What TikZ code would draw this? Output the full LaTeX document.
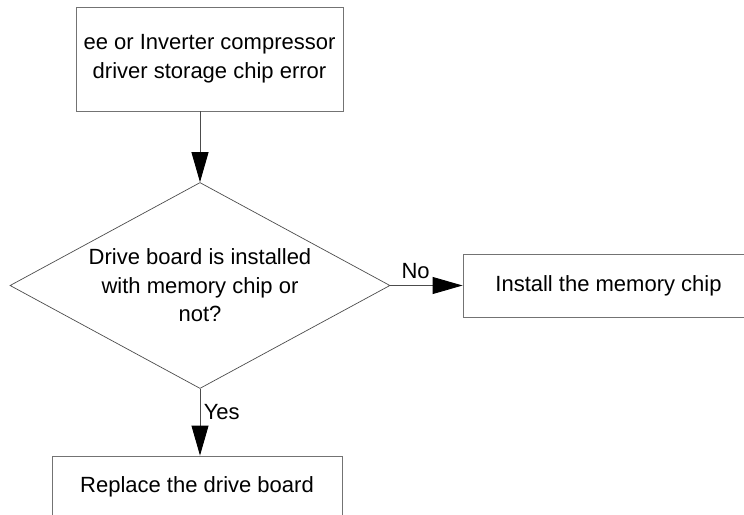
\documentclass[tikz,border=0pt]{standalone}
\usepackage{fontspec}
\setmainfont{Liberation Sans}
\usetikzlibrary{shapes.geometric,arrows.meta}
\tikzset{
	procbox/.style={rectangle, draw=black!55, line width=0.9pt, align=center,
		inner sep=0pt, font=\fontsize{22}{29}\selectfont},
	decbox/.style={diamond, draw=black!70, line width=0.7pt, align=center, inner sep=0pt,
		shape aspect=1.845, minimum width=380pt, minimum height=206pt, font=\fontsize{22}{28.5}\selectfont},
	flowarr/.style={-{Triangle[length=30pt,width=17pt,black]}, draw=black!70, line width=0.9pt},
	flowlbl/.style={font=\fontsize{22}{26}\selectfont}
}
\begin{document}
\begin{tikzpicture}[x=1pt,y=-1pt]
			\useasboundingbox (0,0) rectangle (744,514);
			\node[procbox, minimum width=267pt, minimum height=104pt] (err) at (209.5,59) {ee or Inverter compressor\\driver storage chip error};
			\node[decbox] (dec) at (200,285.5) {Drive board is installed\\with memory chip or\\not?};
			\node[procbox, minimum width=291pt, minimum height=63pt] (inst) at (608.5,285.5) {Install the memory chip};
			\node[procbox, minimum width=290pt, minimum height=62pt] (repl) at (197,487) {Replace the drive board};
			\draw[flowarr] (dec.north |- err.south)--(dec.north);
			\draw[flowarr] (dec.east)--(inst.west) node[flowlbl, above, pos=0.35, yshift=3pt] {No};
			\draw[flowarr] (dec.south)--(dec.south |- repl.north) node[flowlbl, right, pos=0.35] {Yes};
		\end{tikzpicture}
\end{document}
